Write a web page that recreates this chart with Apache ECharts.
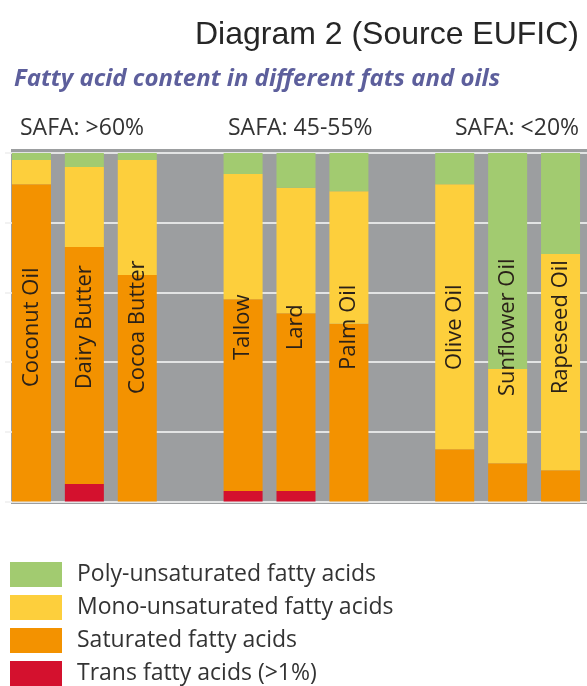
<!DOCTYPE html>
<html>
<head>
<meta charset="utf-8">
<script src="https://cdn.jsdelivr.net/npm/echarts@6/dist/echarts.min.js"></script>
<style>
html,body{margin:0;padding:0;background:#fff;}
#chart{width:587px;height:686px;}
</style>
</head>
<body>
<div id="chart"></div>
<script>
// Categories (blank names are spacer slots between the groups)
var categories = ['Coconut Oil','Dairy Butter','Cocoa Butter','','Tallow','Lard','Palm Oil',' ','Olive Oil','Sunflower Oil','Rapeseed Oil'];
// Percent values
var transFat = [null, 5, null, null, 3, 3, null, null, null, null, null];
var saturated = [91, 68, 65, null, 55, 51, 51, null, 15, 11, 9];
var monoUnsat = [7, 23, 33, null, 36, 36, 38, null, 76, 27, 62];
var polyUnsat = [2, 4, 2, null, 6, 10, 11, null, 9, 62, 29];
var groupLabels = ['SAFA: >60%', 'SAFA: 45-55%', 'SAFA: <20%'];
var legendNames = ['Poly-unsaturated fatty acids','Mono-unsaturated fatty acids','Saturated fatty acids','Trans fatty acids (>1%)'];

var totals = categories.map(function (c, i) {
  if (saturated[i] == null) return null;
  return (transFat[i] || 0) + saturated[i] + monoUnsat[i] + polyUnsat[i];
});

var chart = echarts.init(document.getElementById('chart'), null, {renderer: 'canvas'});
var F = '"Open Sans", "Noto Sans", sans-serif';
var BW = 39;
var safaFont = '23px "Open Sans", "Noto Sans", sans-serif';

chart.setOption({
  animation: false,
  title: [
    {text: 'Diagram 2 (Source EUFIC)', right: 3, top: 14,
     textStyle: {fontFamily: '"Liberation Sans", Arial, sans-serif', fontSize: 32, fontWeight: 'normal', color: '#262626'}},
    {text: 'Fatty acid content in different fats and oils', left: 9, top: 62,
     textStyle: {fontFamily: F, fontSize: 24, fontWeight: 'bold', fontStyle: 'italic', color: '#5d5f9c'}}
  ],
  graphic: [
    {type: 'rect', z: -10, shape: {x: 11, y: 149, width: 590, height: 355}, style: {fill: '#9c9ea0'}},
    {type: 'text', left: 20, top: 117, style: {text: groupLabels[0], font: safaFont, fill: '#333'}},
    {type: 'text', left: 228, top: 117, style: {text: groupLabels[1], font: safaFont, fill: '#333'}},
    {type: 'text', left: 455, top: 117, style: {text: groupLabels[2], font: safaFont, fill: '#333'}}
  ],
  legend: {
    orient: 'vertical', left: 5, top: 557, height: 125,
    itemWidth: 52, itemHeight: 25, itemGap: 8,
    icon: 'rect',
    data: legendNames,
    textStyle: {fontFamily: F, fontSize: 23, color: '#333', padding: [0, 0, 0, 10]}
  },
  grid: {left: 5, right: -12, top: 153, bottom: 184.5, containLabel: false},
  xAxis: {
    type: 'category', data: categories,
    axisLine: {show: false}, axisTick: {show: false}, axisLabel: {show: false}
  },
  yAxis: {
    type: 'value', min: 0, max: 100, interval: 20,
    axisLine: {show: false}, axisTick: {show: false}, axisLabel: {show: false},
    splitLine: {show: true, lineStyle: {color: 'rgba(240,240,240,0.85)', width: 2}}
  },
  series: [
    {name: legendNames[3], type: 'bar', stack: 'fa', data: transFat, barWidth: BW, itemStyle: {color: '#d4112e'}},
    {name: legendNames[2], type: 'bar', stack: 'fa', data: saturated, barWidth: BW, itemStyle: {color: '#f39200'}},
    {name: legendNames[1], type: 'bar', stack: 'fa', data: monoUnsat, barWidth: BW, itemStyle: {color: '#fdcf3c'}},
    {name: legendNames[0], type: 'bar', stack: 'fa', data: polyUnsat, barWidth: BW, itemStyle: {color: '#a2cb70'}},
    {name: 'labels', type: 'bar', data: totals, barWidth: BW, barGap: '-100%', silent: true,
     itemStyle: {color: 'rgba(0,0,0,0)'},
     label: {show: true, position: 'inside', rotate: 90, formatter: '{b}',
             fontFamily: F, fontSize: 22, color: '#2a2118'}}
  ]
});
</script>
</body>
</html>
